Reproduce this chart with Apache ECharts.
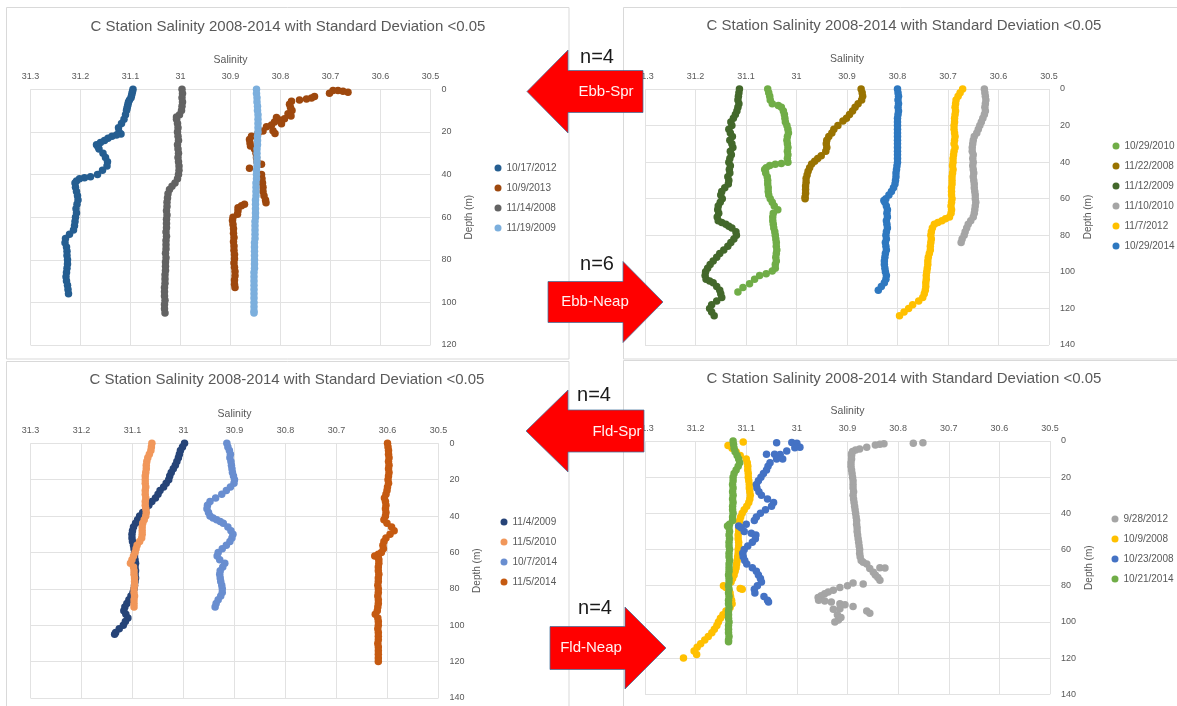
<!DOCTYPE html>
<html>
<head>
<meta charset="utf-8">
<script src="https://cdn.jsdelivr.net/npm/echarts@6/dist/echarts.min.js"></script>
<style>
  html, body { margin: 0; padding: 0; background: #ffffff; }
  #chart { width: 1177px; height: 706px; }
</style>
</head>
<body>
<div id="chart"></div>
<script>
// ---- Chart text ----
const chartTitle = 'C Station Salinity 2008-2014 with Standard Deviation <0.05';
const salinityAxisName = 'Salinity';
const depthAxisName = 'Depth (m)';

// ---- Ebb tide, spring (n=4): [salinity, depth m] ----
const ebbSprDates = ['10/17/2012', '10/9/2013', '11/14/2008', '11/19/2009'];
const ebbSpr_2012_10_17 = [[31.095,0],[31.096,1],[31.097,2],[31.098,3],[31.099,4],[31.102,5],[31.104,6],[31.105,7],[31.106,8],[31.107,9],[31.108,10],[31.110,12],[31.113,14],[31.118,16],[31.124,18],[31.123,20],[31.119,21],[31.128,21.5],[31.137,22],[31.145,23],[31.152,24],[31.160,25],[31.168,26],[31.165,27],[31.163,28],[31.155,30],[31.150,32],[31.146,34],[31.147,36],[31.156,38],[31.166,40],[31.180,41],[31.192,41.5],[31.202,42],[31.208,43],[31.211,44],[31.210,46],[31.208,48],[31.206,50],[31.205,52],[31.207,54],[31.209,56],[31.208,58],[31.210,60],[31.211,62],[31.212,64],[31.214,66],[31.222,68],[31.230,70],[31.231,72],[31.228,74],[31.227,76],[31.227,78],[31.226,80],[31.226,82],[31.227,84],[31.228,86],[31.229,88],[31.228,90],[31.226,92],[31.225,94],[31.224,96]];
const ebbSpr_2013_10_09 = [[30.665,1.4],[30.675,0.9],[30.685,0.6],[30.695,0.6],[30.702,1.9],[30.732,3.4],[30.738,4.1],[30.748,4.5],[30.762,5],[30.778,5.6],[30.782,7],[30.780,8.5],[30.777,10],[30.785,11.5],[30.779,12.5],[30.792,13.8],[30.802,14.4],[30.808,13.2],[30.812,15.4],[30.798,16.2],[30.818,16.8],[30.828,17.6],[30.815,19.4],[30.811,20.8],[30.835,19.6],[30.845,20.6],[30.858,22],[30.862,23.6],[30.861,25.2],[30.860,26.6],[30.852,28],[30.849,30],[30.848,32],[30.847,34],[30.838,35.2],[30.862,37],[30.838,40],[30.837,42],[30.836,44],[30.835,46],[30.835,48],[30.833,50],[30.830,52],[30.829,53.2],[30.872,54],[30.878,54.6],[30.885,55.6],[30.885,57],[30.886,58.6],[30.895,60],[30.896,61.6],[30.895,63.5],[30.894,65.5],[30.894,67.5],[30.893,69.5],[30.894,71.5],[30.893,73.5],[30.893,75.5],[30.892,77.5],[30.892,79.5],[30.893,81.5],[30.892,83.5],[30.891,85.5],[30.891,87.5],[30.892,89.5],[30.892,91.5],[30.891,93]];
const ebbSpr_2008_11_14 = [[30.997,0],[30.996,2],[30.997,4],[30.996,6],[30.997,8],[30.998,10],[31.002,12],[31.008,13],[31.008,14],[31.006,16],[31.005,18],[31.006,20],[31.005,22],[31.004,24],[31.006,26],[31.005,28],[31.004,30],[31.005,32],[31.004,34],[31.003,36],[31.003,38],[31.004,40],[31.006,42],[31.011,44],[31.017,45.5],[31.022,47],[31.025,49],[31.026,51],[31.027,53],[31.027,55],[31.028,57],[31.027,59],[31.028,61],[31.028,63],[31.028,65],[31.029,67],[31.028,69],[31.029,71],[31.029,73],[31.029,75],[31.030,77],[31.029,79],[31.030,81],[31.030,83],[31.030,85],[31.031,87],[31.031,89],[31.031,91],[31.032,93],[31.032,95],[31.032,97],[31.031,99],[31.032,101],[31.032,103],[31.031,105]];
const ebbSpr_2009_11_19 = [[30.848,0],[30.848,2],[30.847,4],[30.847,6],[30.846,8],[30.846,10],[30.845,12],[30.845,14],[30.845,16],[30.845,18],[30.845,20],[30.846,22],[30.846,24],[30.846,26],[30.847,28],[30.847,30],[30.847,32],[30.847,34],[30.847,36],[30.848,38],[30.848,40],[30.848,42],[30.849,44],[30.849,46],[30.849,48],[30.849,50],[30.850,52],[30.850,54],[30.850,56],[30.850,58],[30.850,60],[30.851,62],[30.851,64],[30.851,66],[30.851,68],[30.851,70],[30.852,72],[30.852,74],[30.852,76],[30.852,78],[30.852,80],[30.852,82],[30.852,84],[30.853,86],[30.853,88],[30.853,90],[30.853,92],[30.853,94],[30.853,96],[30.853,98],[30.853,100],[30.853,102],[30.853,104],[30.853,105]];

// ---- Ebb tide, neap (n=6) ----
const ebbNeapDates = ['10/29/2010', '11/22/2008', '11/12/2009', '11/10/2010', '11/7/2012', '10/29/2014'];
const ebbNeap_2010_10_29 = [[31.057,0],[31.055,2],[31.053,4],[31.052,6],[31.048,8],[31.036,9],[31.030,10],[31.026,12],[31.024,14],[31.023,16],[31.022,18],[31.019,20],[31.017,22],[31.016,24],[31.018,26],[31.019,28],[31.018,30],[31.017,32],[31.018,34],[31.017,36],[31.018,38],[31.017,40],[31.030,40.8],[31.042,41.2],[31.053,41.8],[31.060,43],[31.063,44],[31.061,46],[31.058,48],[31.057,50],[31.057,52],[31.056,54],[31.056,56],[31.055,58],[31.052,60],[31.048,62],[31.044,64],[31.037,66],[31.046,68],[31.047,70],[31.047,72],[31.046,74],[31.045,76],[31.043,78],[31.042,80],[31.041,82],[31.040,84],[31.040,86],[31.039,88],[31.040,90],[31.041,92],[31.040,94],[31.042,96],[31.042,98],[31.048,99.5],[31.060,101],[31.073,102],[31.083,104],[31.093,106.5],[31.106,108.5],[31.116,111]];
const ebbNeap_2008_11_22 = [[30.872,0],[30.870,2],[30.869,4],[30.871,6],[30.878,8],[30.884,10],[30.889,12],[30.895,14],[30.901,16],[30.908,17.5],[30.918,20],[30.926,22],[30.930,24],[30.936,26],[30.940,28],[30.941,30],[30.940,32],[30.942,34],[30.951,36.5],[30.958,38],[30.964,39.5],[30.970,41],[30.974,43],[30.977,45],[30.979,47],[30.981,49],[30.981,51],[30.982,53],[30.982,55],[30.982,57],[30.983,59],[30.983,60]];
const ebbNeap_2009_11_12 = [[31.113,0],[31.114,2],[31.115,4],[31.116,6],[31.114,8],[31.116,10],[31.118,12],[31.121,14],[31.125,16],[31.130,18],[31.128,20],[31.134,22],[31.131,24],[31.127,26],[31.132,28],[31.128,30],[31.126,32],[31.131,34],[31.129,36],[31.132,38],[31.134,40],[31.131,42],[31.133,44],[31.132,46],[31.136,48],[31.134,50],[31.135,52],[31.142,54],[31.148,56],[31.150,58],[31.147,60],[31.151,62],[31.155,64],[31.156,66],[31.154,68],[31.157,70],[31.155,72],[31.148,73],[31.140,74],[31.134,75],[31.128,76],[31.120,78],[31.119,80],[31.124,82],[31.130,84],[31.136,86],[31.144,88],[31.152,90],[31.158,92],[31.165,94],[31.171,96],[31.176,98],[31.180,100],[31.181,102],[31.179,104],[31.172,105],[31.165,106],[31.158,108],[31.152,110],[31.150,112],[31.148,114],[31.158,116],[31.168,118],[31.172,120],[31.168,122],[31.163,124]];
const ebbNeap_2010_11_10 = [[30.628,0],[30.627,2],[30.626,4],[30.625,6],[30.626,8],[30.627,10],[30.626,12],[30.628,14],[30.631,16],[30.634,18],[30.637,20],[30.640,22],[30.643,24],[30.648,26],[30.650,28],[30.651,30],[30.652,32],[30.652,34],[30.650,36],[30.651,38],[30.650,40],[30.651,42],[30.650,44],[30.649,46],[30.650,48],[30.649,50],[30.648,52],[30.648,54],[30.647,56],[30.646,58],[30.646,60],[30.645,62],[30.646,64],[30.647,66],[30.648,68],[30.650,70],[30.655,72],[30.660,74],[30.663,76],[30.666,78],[30.668,80],[30.672,82],[30.674,84]];
const ebbNeap_2012_11_07 = [[30.671,0],[30.676,2],[30.680,4],[30.684,6],[30.685,8],[30.686,10],[30.685,12],[30.686,14],[30.687,16],[30.687,18],[30.688,20],[30.688,22],[30.687,24],[30.686,26],[30.687,28],[30.688,30],[30.686,32],[30.688,34],[30.689,36],[30.690,38],[30.690,40],[30.691,42],[30.690,44],[30.691,46],[30.692,48],[30.692,50],[30.692,52],[30.693,54],[30.693,56],[30.693,58],[30.692,60],[30.693,62],[30.694,64],[30.693,66],[30.694,68],[30.697,70],[30.705,71],[30.712,72],[30.720,73],[30.727,74],[30.731,76],[30.733,78],[30.734,80],[30.733,82],[30.734,84],[30.735,86],[30.735,88],[30.737,90],[30.739,92],[30.740,94],[30.740,96],[30.741,98],[30.742,100],[30.743,102],[30.743,104],[30.744,106],[30.744,108],[30.745,110],[30.747,112],[30.750,114],[30.758,116],[30.770,118],[30.778,120],[30.787,122],[30.796,124]];
const ebbNeap_2014_10_29 = [[30.800,0],[30.799,2],[30.798,4],[30.799,6],[30.798,8],[30.799,10],[30.798,12],[30.799,14],[30.800,16],[30.800,18],[30.800,20],[30.800,22],[30.800,24],[30.800,26],[30.800,28],[30.800,30],[30.800,32],[30.800,34],[30.800,36],[30.800,38],[30.800,40],[30.801,42],[30.802,44],[30.803,46],[30.803,48],[30.804,50],[30.805,52],[30.808,54],[30.812,56],[30.817,58],[30.823,60],[30.827,61],[30.825,62],[30.822,64],[30.820,66],[30.821,68],[30.820,70],[30.822,72],[30.821,74],[30.820,76],[30.822,78],[30.823,80],[30.822,82],[30.824,84],[30.823,86],[30.822,88],[30.824,90],[30.825,92],[30.826,94],[30.826,96],[30.825,98],[30.824,100],[30.822,102],[30.823,104],[30.826,106],[30.832,108],[30.838,110]];

// ---- Flood tide, spring (n=4) ----
const fldSprDates = ['11/4/2009', '11/5/2010', '10/7/2014', '11/5/2014'];
const fldSpr_2009_11_04 = [[30.998,0],[31.002,2],[31.006,4],[31.008,6],[31.010,8],[31.013,10],[31.016,12],[31.020,14],[31.024,16],[31.027,18],[31.029,20],[31.034,22],[31.039,24],[31.046,26],[31.050,28],[31.055,30],[31.062,32],[31.068,34],[31.074,36],[31.080,38],[31.086,40],[31.090,42],[31.094,44],[31.098,46],[31.100,48],[31.101,50],[31.101,52],[31.100,54],[31.098,56],[31.097,58],[31.096,60],[31.096,62],[31.095,64],[31.094,66],[31.095,68],[31.094,70],[31.095,72],[31.094,74],[31.095,76],[31.096,78],[31.097,80],[31.099,82],[31.103,84],[31.107,86],[31.111,88],[31.115,90],[31.117,92],[31.113,94],[31.109,96],[31.114,98],[31.118,100],[31.126,102],[31.133,104],[31.135,105]];
const fldSpr_2010_11_05 = [[31.062,0],[31.063,2],[31.064,4],[31.067,6],[31.070,8],[31.072,10],[31.073,12],[31.073,14],[31.074,16],[31.075,18],[31.075,20],[31.075,22],[31.074,24],[31.075,26],[31.075,28],[31.074,30],[31.075,32],[31.075,34],[31.074,36],[31.073,38],[31.074,40],[31.077,42],[31.080,44],[31.081,46],[31.081,48],[31.081,50],[31.082,52],[31.086,54],[31.091,56],[31.093,58],[31.095,60],[31.098,62],[31.101,64],[31.104,66],[31.098,68],[31.097,70],[31.097,72],[31.096,74],[31.096,76],[31.096,78],[31.097,80],[31.097,82],[31.096,84],[31.097,86],[31.097,88],[31.097,90]];
const fldSpr_2014_10_07 = [[30.915,0],[30.913,2],[30.910,4],[30.908,6],[30.909,8],[30.907,10],[30.906,12],[30.905,14],[30.904,16],[30.902,18],[30.900,20],[30.901,22],[30.908,24],[30.916,26],[30.925,28],[30.937,30],[30.948,32],[30.953,34],[30.954,36],[30.951,38],[30.948,40],[30.942,41],[30.935,42],[30.928,43],[30.922,44],[30.913,46],[30.907,48],[30.903,50],[30.905,52],[30.909,54],[30.916,56],[30.924,58],[30.932,60],[30.934,62],[30.929,64],[30.919,66],[30.923,68],[30.928,70],[30.929,72],[30.928,74],[30.927,76],[30.925,78],[30.924,80],[30.924,82],[30.927,84],[30.932,86],[30.936,88],[30.938,90]];
const fldSpr_2014_11_05 = [[30.600,0],[30.599,2],[30.598,4],[30.598,6],[30.597,8],[30.598,10],[30.597,12],[30.598,14],[30.597,16],[30.598,18],[30.599,20],[30.598,22],[30.600,24],[30.601,26],[30.603,28],[30.606,30],[30.604,32],[30.603,34],[30.604,36],[30.603,38],[30.604,40],[30.607,42],[30.601,44],[30.592,46],[30.587,48],[30.595,50],[30.603,52],[30.607,54],[30.609,56],[30.608,58],[30.612,60],[30.618,61],[30.625,62],[30.618,63],[30.617,64],[30.617,66],[30.618,68],[30.618,70],[30.617,72],[30.618,74],[30.618,76],[30.619,78],[30.618,80],[30.618,82],[30.619,84],[30.618,86],[30.618,88],[30.619,90],[30.620,92],[30.624,94],[30.619,96],[30.618,98],[30.618,100],[30.619,102],[30.618,104],[30.618,106],[30.618,108],[30.619,110],[30.618,112],[30.618,114],[30.618,116],[30.618,118],[30.618,120]];

// ---- Flood tide, neap (n=4) ----
const fldNeapDates = ['9/28/2012', '10/9/2008', '10/23/2008', '10/21/2014'];
const fldNeap_2012_09_28 = [[30.751,1],[30.770,1.2],[30.828,1.5],[30.836,1.8],[30.845,2.2],[30.862,3.5],[30.876,4.4],[30.884,5],[30.890,5.8],[30.892,7],[30.892,8],[30.892,10],[30.893,12],[30.893,14],[30.892,16],[30.891,18],[30.890,20],[30.889,22],[30.889,24],[30.889,26],[30.888,28],[30.889,30],[30.888,32],[30.887,34],[30.886,36],[30.885,38],[30.884,40],[30.883,42],[30.882,44],[30.882,46],[30.881,48],[30.881,50],[30.880,52],[30.879,54],[30.878,56],[30.877,58],[30.876,60],[30.876,62],[30.875,64],[30.873,66],[30.869,67],[30.862,68],[30.856,70.5],[30.836,70],[30.826,70.2],[30.849,72.5],[30.845,74],[30.840,75.5],[30.836,77],[30.869,79],[30.889,78.5],[30.900,80],[30.915,81],[30.928,82.5],[30.938,83.5],[30.945,84.4],[30.952,85.5],[30.958,86.5],[30.957,88],[30.945,88.5],[30.932,89],[30.915,90],[30.905,90.5],[30.889,91.5],[30.915,92.7],[30.928,93],[30.862,94],[30.856,95.2],[30.920,96],[30.913,97.5],[30.918,99],[30.925,100]];
const fldNeap_2008_10_09 = [[31.106,0.5],[31.136,2.5],[31.128,4],[31.120,6],[31.112,8],[31.100,10],[31.098,12],[31.097,14],[31.097,16],[31.096,18],[31.096,20],[31.095,22],[31.094,24],[31.094,26],[31.093,28],[31.092,30],[31.093,32],[31.095,34],[31.099,36],[31.104,38],[31.108,40],[31.111,42],[31.113,44],[31.114,46],[31.115,48],[31.115,50],[31.116,52],[31.116,54],[31.115,56],[31.115,58],[31.116,60],[31.116,62],[31.117,64],[31.118,66],[31.119,68],[31.120,70],[31.122,72],[31.124,74],[31.127,76],[31.130,78],[31.145,80],[31.140,81],[31.112,81.5],[31.108,82],[31.132,84],[31.131,86],[31.129,88],[31.128,90],[31.132,92],[31.140,94],[31.146,96],[31.151,98],[31.155,100],[31.158,102],[31.163,104],[31.168,106],[31.175,108],[31.182,110],[31.190,112],[31.197,114],[31.203,116],[31.198,118],[31.224,120]];
const fldNeap_2008_10_23 = [[31.040,1],[31.010,0.8],[31.000,1.2],[30.994,3.5],[31.004,3.7],[31.020,5.5],[31.060,7.3],[31.044,7.3],[31.033,7.5],[31.028,10],[31.040,10],[31.053,12],[31.057,14],[31.060,16],[31.066,18],[31.071,20],[31.076,22],[31.080,24],[31.079,26],[31.075,28],[31.070,30],[31.058,32],[31.046,34],[31.050,36],[31.062,38],[31.072,40],[31.080,42],[31.084,44],[31.100,46],[31.115,47],[31.110,48],[31.104,50],[31.090,51],[31.081,52],[31.082,54],[31.088,56],[31.097,58],[31.104,60],[31.107,62],[31.106,64],[31.103,66],[31.099,68],[31.088,70],[31.080,72],[31.076,74],[31.072,76],[31.070,78],[31.078,80],[31.084,82],[31.083,84],[31.065,86],[31.058,88],[31.056,89]];
const fldNeap_2014_10_21 = [[31.126,0],[31.125,2],[31.124,4],[31.122,6],[31.118,8],[31.115,10],[31.113,12],[31.116,14],[31.120,16],[31.124,18],[31.126,20],[31.126,22],[31.127,24],[31.126,26],[31.127,28],[31.126,30],[31.127,32],[31.126,34],[31.127,36],[31.127,38],[31.126,40],[31.127,42],[31.127,44],[31.133,46],[31.137,47],[31.134,48],[31.133,50],[31.134,52],[31.133,54],[31.134,56],[31.134,58],[31.133,60],[31.134,62],[31.134,64],[31.133,66],[31.134,68],[31.134,70],[31.134,72],[31.135,74],[31.134,76],[31.134,78],[31.135,80],[31.134,82],[31.135,84],[31.134,86],[31.135,88],[31.135,90],[31.134,92],[31.135,94],[31.135,96],[31.135,98],[31.134,100],[31.135,102],[31.135,104],[31.135,106],[31.134,108],[31.135,110],[31.135,111]];

// ---- Panel layout and styling ----
const FONT = '"Liberation Sans", Arial, sans-serif';
const GREY_TEXT = '#595959';
const GRID_LINE = '#E2E2E2';

const panels = [
  {
    dates: ebbSprDates,
    profiles: [ebbSpr_2012_10_17, ebbSpr_2013_10_09, ebbSpr_2008_11_14, ebbSpr_2009_11_19],
    colors: ['#255E91', '#9E480E', '#636363', '#7CAFDD'],
    grid: { left: 30.5, top: 89.3, width: 400, height: 255.7 },
    depthMax: 120,
    legend: { left: 494.5, top: 162 },
    frame: { x: 6.5, y: 7.5, width: 562.5, height: 351.5 },
    titleAt: [288, 27]
  },
  {
    dates: ebbNeapDates,
    profiles: [ebbNeap_2010_10_29, ebbNeap_2008_11_22, ebbNeap_2009_11_12, ebbNeap_2010_11_10, ebbNeap_2012_11_07, ebbNeap_2014_10_29],
    colors: ['#70AD47', '#997300', '#43682B', '#A5A5A5', '#FFC000', '#2E78C0'],
    grid: { left: 645, top: 89, width: 404, height: 256 },
    depthMax: 140,
    legend: { left: 1112.5, top: 140 },
    frame: { x: 623.5, y: 7.5, width: 560, height: 351.5 },
    titleAt: [904, 26]
  },
  {
    dates: fldSprDates,
    profiles: [fldSpr_2009_11_04, fldSpr_2010_11_05, fldSpr_2014_10_07, fldSpr_2014_11_05],
    colors: ['#264478', '#F1975A', '#698ED0', '#C55A11'],
    grid: { left: 30.5, top: 443.3, width: 408, height: 254.7 },
    depthMax: 140,
    legend: { left: 500.5, top: 516 },
    frame: { x: 6.5, y: 361.5, width: 562.5, height: 360 },
    titleAt: [287, 380]
  },
  {
    dates: fldNeapDates,
    profiles: [fldNeap_2012_09_28, fldNeap_2008_10_09, fldNeap_2008_10_23, fldNeap_2014_10_21],
    colors: ['#A5A5A5', '#FFC000', '#4472C4', '#70AD47'],
    grid: { left: 645, top: 441, width: 405, height: 253.3 },
    depthMax: 140,
    legend: { left: 1111.5, top: 513 },
    frame: { x: 623.5, y: 360.5, width: 560, height: 360 },
    titleAt: [904, 379]
  }
];

// Tide-phase arrows with sample counts
const arrows = [
  { label: 'Ebb-Spr',  count: 'n=4', dir: 'left',  tipX: 527, baseX: 568, endX: 643, cy: 91.5, half: 41.5, shaftHalf: 21, labelAt: [606, 92],  countAt: [597, 57] },
  { label: 'Ebb-Neap', count: 'n=6', dir: 'right', tipX: 663, baseX: 623, endX: 548, cy: 302,  half: 40.5, shaftHalf: 20.5, labelAt: [595, 302], countAt: [597, 264] },
  { label: 'Fld-Spr',  count: 'n=4', dir: 'left',  tipX: 526, baseX: 568, endX: 644, cy: 431,  half: 41,   shaftHalf: 21, labelAt: [617, 432], countAt: [594, 395] },
  { label: 'Fld-Neap', count: 'n=4', dir: 'right', tipX: 666, baseX: 625, endX: 550, cy: 648,  half: 41,   shaftHalf: 21.5, labelAt: [591, 648], countAt: [595, 608] }
];

const grids = [], xAxes = [], yAxes = [], series = [], legends = [], graphics = [];

panels.forEach((p, i) => {
  grids.push(Object.assign({ containLabel: false }, p.grid));

  xAxes.push({
    gridIndex: i, type: 'value', position: 'top', inverse: true,
    min: 30.5, max: 31.3, interval: 0.1,
    name: salinityAxisName, nameLocation: 'middle', nameGap: 24,
    nameTextStyle: { fontFamily: FONT, fontSize: 10.5, color: GREY_TEXT },
    axisLine: { show: false }, axisTick: { show: false },
    axisLabel: { fontFamily: FONT, fontSize: 9, color: GREY_TEXT, margin: 8 },
    splitLine: { show: true, lineStyle: { color: GRID_LINE, width: 1 } }
  });

  yAxes.push({
    gridIndex: i, type: 'value', position: 'right', inverse: true,
    min: 0, max: p.depthMax, interval: 20,
    name: depthAxisName, nameLocation: 'middle', nameRotate: 90, nameGap: 34,
    nameTextStyle: { fontFamily: FONT, fontSize: 10, color: GREY_TEXT },
    axisLine: { show: false }, axisTick: { show: false },
    axisLabel: { fontFamily: FONT, fontSize: 9, color: GREY_TEXT, margin: 11 },
    splitLine: { show: true, lineStyle: { color: GRID_LINE, width: 1 } }
  });

  p.dates.forEach((d, k) => {
    series.push({
      name: d, type: 'scatter', xAxisIndex: i, yAxisIndex: i,
      data: p.profiles[k], symbol: 'circle', symbolSize: 7.5,
      itemStyle: { color: p.colors[k], opacity: 1 },
      silent: true, animation: false
    });
  });

  legends.push({
    data: p.dates, orient: 'vertical', left: p.legend.left, top: p.legend.top,
    padding: 0, icon: 'circle', itemWidth: 7, itemHeight: 7, itemGap: 8,
    selectedMode: false,
    textStyle: { fontFamily: FONT, fontSize: 10, color: GREY_TEXT, lineHeight: 12 }
  });

  graphics.push({
    type: 'rect', z: 0, silent: true,
    shape: { x: p.frame.x, y: p.frame.y, width: p.frame.width, height: p.frame.height },
    style: { fill: 'none', stroke: '#D9D9D9', lineWidth: 1 }
  });
  graphics.push({
    type: 'text', z: 5, silent: true,
    x: p.titleAt[0], y: p.titleAt[1],
    style: { text: chartTitle, fill: GREY_TEXT, font: '15px ' + FONT, textAlign: 'center', textVerticalAlign: 'middle' }
  });
});

arrows.forEach(a => {
  const top = a.cy - a.half, bot = a.cy + a.half;
  const sTop = a.cy - a.shaftHalf, sBot = a.cy + a.shaftHalf;
  const pts = [[a.tipX, a.cy], [a.baseX, top], [a.baseX, sTop], [a.endX, sTop], [a.endX, sBot], [a.baseX, sBot], [a.baseX, bot]];
  graphics.push({
    type: 'polygon', z: 100, silent: true,
    shape: { points: pts },
    style: { fill: '#FF0000', stroke: 'rgba(65,113,156,0.75)', lineWidth: 1 }
  });
  graphics.push({
    type: 'text', z: 101, silent: true, x: a.labelAt[0], y: a.labelAt[1],
    style: { text: a.label, fill: '#FFF2F2', font: '15px ' + FONT, textAlign: 'center', textVerticalAlign: 'middle' }
  });
  graphics.push({
    type: 'text', z: 101, silent: true, x: a.countAt[0], y: a.countAt[1],
    style: { text: a.count, fill: '#1A1A1A', font: '20px ' + FONT, textAlign: 'center', textVerticalAlign: 'middle' }
  });
});

const chart = echarts.init(document.getElementById('chart'), null, { renderer: 'canvas' });
chart.setOption({
  backgroundColor: '#FFFFFF',
  animation: false,
  grid: grids,
  xAxis: xAxes,
  yAxis: yAxes,
  legend: legends,
  series: series,
  graphic: { elements: graphics }
});
</script>
</body>
</html>
